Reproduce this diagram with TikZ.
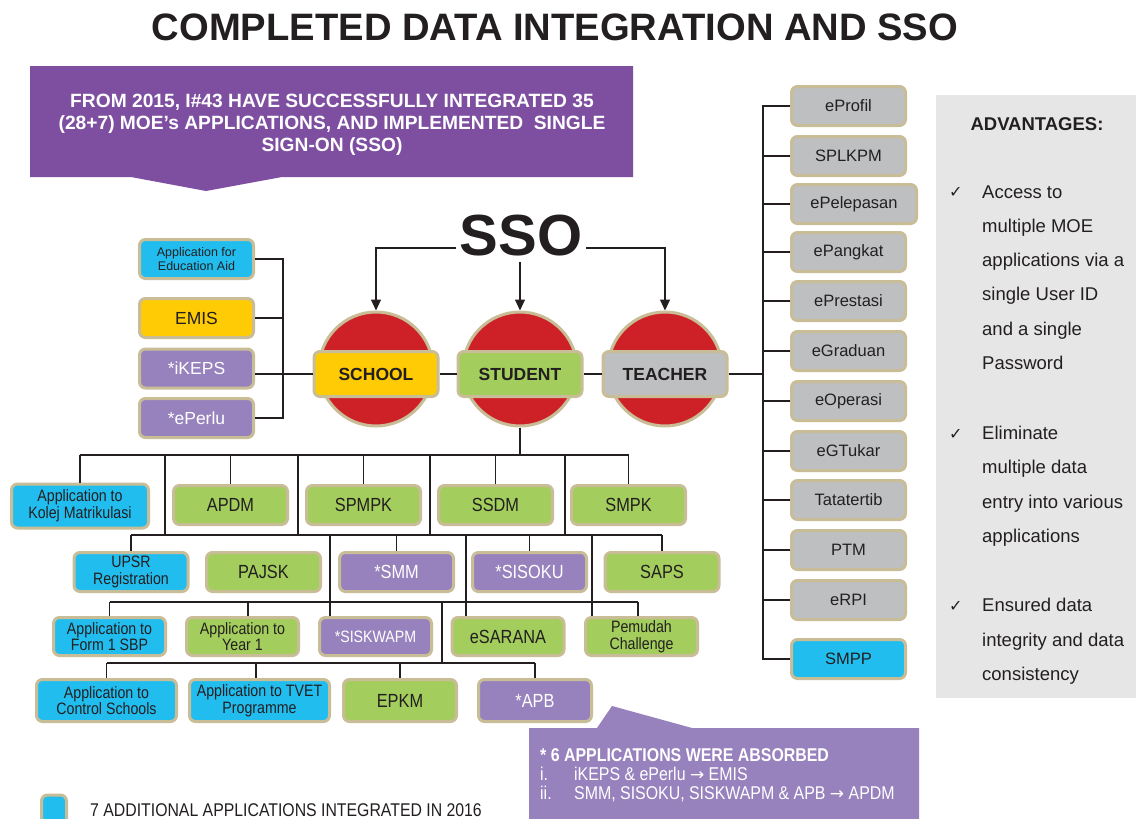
\documentclass[tikz,border=0pt]{standalone}
\usepackage{fontspec}
\setmainfont{Liberation Sans}
\newfontfamily\nar[FakeStretch=0.86]{Liberation Sans}
\newfontfamily\dejavu{DejaVu Sans}
\usetikzlibrary{arrows.meta}
\definecolor{txt}{HTML}{231F20}
\definecolor{beige}{HTML}{C9BD97}
\definecolor{cyanc}{HTML}{21BDEF}
\definecolor{greenc}{HTML}{A3CD5C}
\definecolor{purplec}{HTML}{9782BD}
\definecolor{bannerc}{HTML}{7E4FA0}
\definecolor{yellowc}{HTML}{FFCB05}
\definecolor{grayc}{HTML}{BDBFC1}
\definecolor{redc}{HTML}{CD2127}
\definecolor{panelc}{HTML}{E6E6E7}
\definecolor{linec}{HTML}{231F20}
\newcommand{\rarr}{{\dejavu\fontsize{17}{17}\selectfont →}}
\tikzset{
  app/.style={draw=beige, line width=3pt, rounded corners=6pt, align=center, text=txt, inner sep=1pt},
  cy/.style={app, fill=cyanc},
  gr/.style={app, fill=greenc},
  pu/.style={app, fill=purplec, text=white},
  gy/.style={app, fill=grayc},
  ye/.style={app, fill=yellowc},
  rowbox/.style={minimum width=114pt, minimum height=39pt},
  rbox/.style={gy, minimum width=114pt, minimum height=39pt, font=\fontsize{16.5}{19}\selectfont},
  big/.style={font=\nar\fontsize{19}{21}\selectfont},
  two/.style={font=\nar\fontsize{16.5}{16.8}\selectfont},
  hub/.style={circle, fill=redc, draw=beige, line width=3pt, minimum size=114pt, inner sep=0pt},
  hublabel/.style={minimum width=124pt, minimum height=45pt, font=\bfseries\fontsize{17.5}{20}\selectfont},
  link/.style={draw=linec, line width=1.1pt},
  arr/.style={link, -{Triangle[length=11pt,width=10pt]}},
  adv/.style={anchor=base west, text=txt, font=\fontsize{18.5}{22}\selectfont, inner sep=0pt},
  chk/.style={anchor=base west, text=txt, font=\dejavu\fontsize{16}{18}\selectfont, inner sep=0pt},
  cotext/.style={anchor=base west, text=white, font=\nar\fontsize{18.5}{19}\selectfont, inner sep=0pt},
}
\begin{document}
\begin{tikzpicture}[x=1pt,y=-1pt]
\useasboundingbox (0,0) rectangle (1136,819);
\clip (0,0) rectangle (1136,819);
\fill[white] (0,0) rectangle (1136,819);

% title
\node[anchor=base, text=txt, font=\bfseries\fontsize{38.2}{40}\selectfont, inner sep=0pt] (title) at (555,40.5) {COMPLETED DATA INTEGRATION AND SSO};

% banner
\fill[bannerc] (30,66) -- (633,66) -- (633,177) -- (282,177) -- (206,191) -- (131,177) -- (30,177) -- cycle;
\begin{scope}[every node/.style={anchor=base, text=white, font=\bfseries\fontsize{19.2}{22}\selectfont, inner sep=0pt}]
\node (ban1) at (332,107) {FROM 2015, I\#43 HAVE SUCCESSFULLY INTEGRATED 35};
\node (ban2) at (332,129) {(28+7) MOE's APPLICATIONS, AND IMPLEMENTED\ \ SINGLE};
\node (ban3) at (332,151) {SIGN-ON (SSO)};
\end{scope}

% SSO
\node[anchor=base, text=txt, font=\bfseries\fontsize{58}{60}\selectfont, inner sep=0pt] (sso) at (521,255) {SSO};
\coordinate (ssoL) at (456,248);
\coordinate (ssoR) at (586,248);
\coordinate (ssoB) at (520,262);

% hubs
\node[hub] (schoolc) at (376,369) {};
\node[hub] (studentc) at (520,369) {};
\node[hub] (teacherc) at (665,369) {};
\node[ye, hublabel] (school) at (376,374) {SCHOOL};
\node[gr, hublabel] (student) at (520,374) {STUDENT};
\node[gy, hublabel] (teacher) at (665,374) {TEACHER};

\draw[arr] (ssoL) -| (schoolc.north);
\draw[arr] (ssoB) -- (studentc.north);
\draw[arr] (ssoR) -| (teacherc.north);

% left boxes
\node[cy, rowbox, font=\fontsize{12.5}{14}\selectfont] (eduaid) at (196.5,259) {Application for\\Education Aid};
\node[ye, rowbox, font=\fontsize{17.5}{20}\selectfont] (emis) at (196.5,318) {EMIS};
\node[pu, rowbox, font=\fontsize{17.5}{20}\selectfont] (ikeps) at (196.5,368.5) {*iKEPS};
\node[pu, rowbox, font=\fontsize{17.5}{20}\selectfont] (eperlu) at (196.5,418) {*ePerlu};
\coordinate (lbus) at (283,0);
\draw[link] (eduaid.east) -- (eduaid.east -| lbus) -- (eperlu.east -| lbus) -- (eperlu.east);
\draw[link] (emis.east) -- (emis.east -| lbus);
\draw[link] (ikeps.east |- school.west) -- (school.west);
\draw[link] (school.east) -- (student.west);
\draw[link] (student.east) -- (teacher.west);

% right column
\node[rbox] (eprofil) at (848.5,106) {eProfil};
\node[rbox] (splkpm) at (848.5,156) {SPLKPM};
\node[rbox, minimum width=125pt] (epelepasan) at (854,204) {ePelepasan};
\node[rbox] (epangkat) at (848.5,252) {ePangkat};
\node[rbox] (eprestasi) at (848.5,301) {ePrestasi};
\node[rbox] (egraduan) at (848.5,351) {eGraduan};
\node[rbox] (eoperasi) at (848.5,401) {eOperasi};
\node[rbox] (egtukar) at (848.5,451) {eGTukar};
\node[rbox] (tatatertib) at (848.5,500) {Tatatertib};
\node[rbox] (ptm) at (848.5,550) {PTM};
\node[rbox] (erpi) at (848.5,600) {eRPI};
\node[rbox, fill=cyanc] (smpp) at (848.5,659) {SMPP};
\coordinate (rbus) at (763,0);
\draw[link] (eprofil.west) -- (eprofil.west -| rbus) -- (smpp.west -| rbus) -- (smpp.west);
\foreach \n in {splkpm,epelepasan,epangkat,eprestasi,egraduan,eoperasi,egtukar,tatatertib,ptm,erpi}
  \draw[link] (\n.west -| rbus) -- (\n.west);
\draw[link] (teacher.east) -- (teacher.east -| rbus);

% advantages panel
\fill[panelc] (936,95) rectangle (1136,698);
\node[anchor=base, text=txt, font=\bfseries\fontsize{18.5}{22}\selectfont, inner sep=0pt] (advt) at (1037,130) {ADVANTAGES:};
\node[chk] (c1) at (949,197) {✓};
\node[chk] (c2) at (949,439) {✓};
\node[chk] (c3) at (949,611) {✓};
\node[adv] (a1) at (982,198) {Access to};
\node[adv] (a2) at (982,232) {multiple MOE};
\node[adv] (a3) at (982,266) {applications via a};
\node[adv] (a4) at (982,300) {single User ID};
\node[adv] (a5) at (982,335) {and a single};
\node[adv] (a6) at (982,369) {Password};
\node[adv] (b1t) at (982,439) {Eliminate};
\node[adv] (b2t) at (982,473) {multiple data};
\node[adv] (b3t) at (982,508) {entry into various};
\node[adv] (b4t) at (982,542) {applications};
\node[adv] (d1t) at (982,611) {Ensured data};
\node[adv] (d2t) at (982,646) {integrity and data};
\node[adv] (d3t) at (982,680) {consistency};

% row 1
\node[cy, minimum width=137pt, minimum height=44pt, two] (kolej) at (80,506) {Application to\\Kolej Matrikulasi};
\node[gr, rowbox, big] (apdm) at (230.5,505) {APDM};
\node[gr, rowbox, big] (spmpk) at (363.5,505) {SPMPK};
\node[gr, rowbox, big] (ssdm) at (495.5,505) {SSDM};
\node[gr, rowbox, big] (smpk) at (628.5,505) {SMPK};
% row 2
\node[cy, rowbox, two] (upsr) at (131,572) {UPSR\\Registration};
\node[gr, rowbox, big] (pajsk) at (263.5,572) {PAJSK};
\node[pu, rowbox, big] (smm) at (396.5,572) {*SMM};
\node[pu, rowbox, big] (sisoku) at (529.5,572) {*SISOKU};
\node[gr, rowbox, big] (saps) at (662,572) {SAPS};
% row 3
\node[cy, rowbox, minimum width=112pt, minimum height=38pt, two] (form1) at (109.5,636.5) {Application to\\Form 1 SBP};
\node[gr, rowbox, minimum width=112pt, minimum height=38pt, two] (year1) at (242.5,636.5) {Application to\\Year 1};
\node[pu, rowbox, minimum width=112pt, minimum height=38pt, two] (siskwapm) at (375.5,636.5) {*SISKWAPM};
\node[gr, rowbox, minimum width=112pt, minimum height=38pt, big] (esarana) at (508,636.5) {eSARANA};
\node[gr, rowbox, minimum width=112pt, minimum height=38pt, two] (pemudah) at (641.5,636.5) {Pemudah\\Challenge};
% row 4
\node[cy, minimum width=140pt, minimum height=42pt, two] (control) at (106.5,700.5) {Application to\\Control Schools};
\node[cy, minimum width=140pt, minimum height=42pt, two] (tvet) at (259.5,700.5) {Application to TVET\\Programme};
\node[gr, minimum width=113pt, minimum height=42pt, big] (epkm) at (400,700.5) {EPKM};
\node[pu, minimum width=113pt, minimum height=42pt, big] (apb) at (535,700.5) {*APB};

% tree connectors
\coordinate (y1) at (0,455);
\coordinate (y2) at (0,535);
\coordinate (y3) at (0,602);
\coordinate (y4) at (0,663);
\draw[link] (studentc.south) -- (studentc.south |- y1);
\draw[link] (kolej.north |- y1) -- (smpk.north |- y1);
\foreach \n in {kolej,apdm,spmpk,ssdm,smpk} \draw[link] (\n.north |- y1) -- (\n.north);
\foreach \x in {165,298,430,565} {
  \coordinate (t\x) at (\x,455);
  \draw[link] (t\x) -- (t\x |- y2);
}
\draw[link] (upsr.north |- y2) -- (saps.north |- y2);
\foreach \n in {upsr,smm,sisoku,saps} \draw[link] (\n.north |- y2) -- (\n.north);
\coordinate (u1) at (330,535);
\coordinate (u2) at (466,535);
\coordinate (u3) at (592,535);
\draw[link] (u1) -- (u1 |- siskwapm.north);
\draw[link] (u2) -- (u2 |- esarana.north);
\draw[link] (u3) -- (u3 |- pemudah.north);
\coordinate (p1) at (248,602);
\coordinate (p2) at (638,602);
\draw[link] (form1.north |- y3) -- (p2);
\draw[link] (form1.north |- y3) -- (form1.north);
\draw[link] (p1) -- (p1 |- year1.north);
\draw[link] (p2) -- (p2 |- pemudah.north);
\coordinate (v1) at (442,602);
\draw[link] (v1) -- (v1 |- y4);
\coordinate (w1) at (256,663);
\draw[link] (control.north |- y4) -- (apb.north |- y4);
\foreach \n in {control,epkm,apb} \draw[link] (\n.north |- y4) -- (\n.north);
\draw[link] (w1) -- (w1 |- tvet.north);

% callout
\fill[purplec] (529,728) -- (597,728) -- (612,706) -- (692,728) -- (919,728) -- (919,830) -- (529,830) -- cycle;
\node[cotext, font=\nar\bfseries\fontsize{18.5}{19}\selectfont] (absorbed) at (540,761) {* 6 APPLICATIONS WERE ABSORBED};
\node[cotext] (n1) at (540,780) {i.};
\node[cotext] (l1) at (574,780) {iKEPS \& ePerlu \rarr\ EMIS};
\node[cotext] (n2) at (540,799) {ii.};
\node[cotext] (l2) at (574,799) {SMM, SISOKU, SISKWAPM \& APB \rarr\ APDM};

% legend
\node[cy, minimum width=25pt, minimum height=34pt, inner sep=0pt] (legbox) at (54,812) {};
\node[anchor=base west, text=txt, font=\nar\fontsize{18.4}{20}\selectfont, inner sep=0pt] (legtxt) at (90,816) {7 ADDITIONAL APPLICATIONS INTEGRATED IN 2016};
\end{tikzpicture}
\end{document}
